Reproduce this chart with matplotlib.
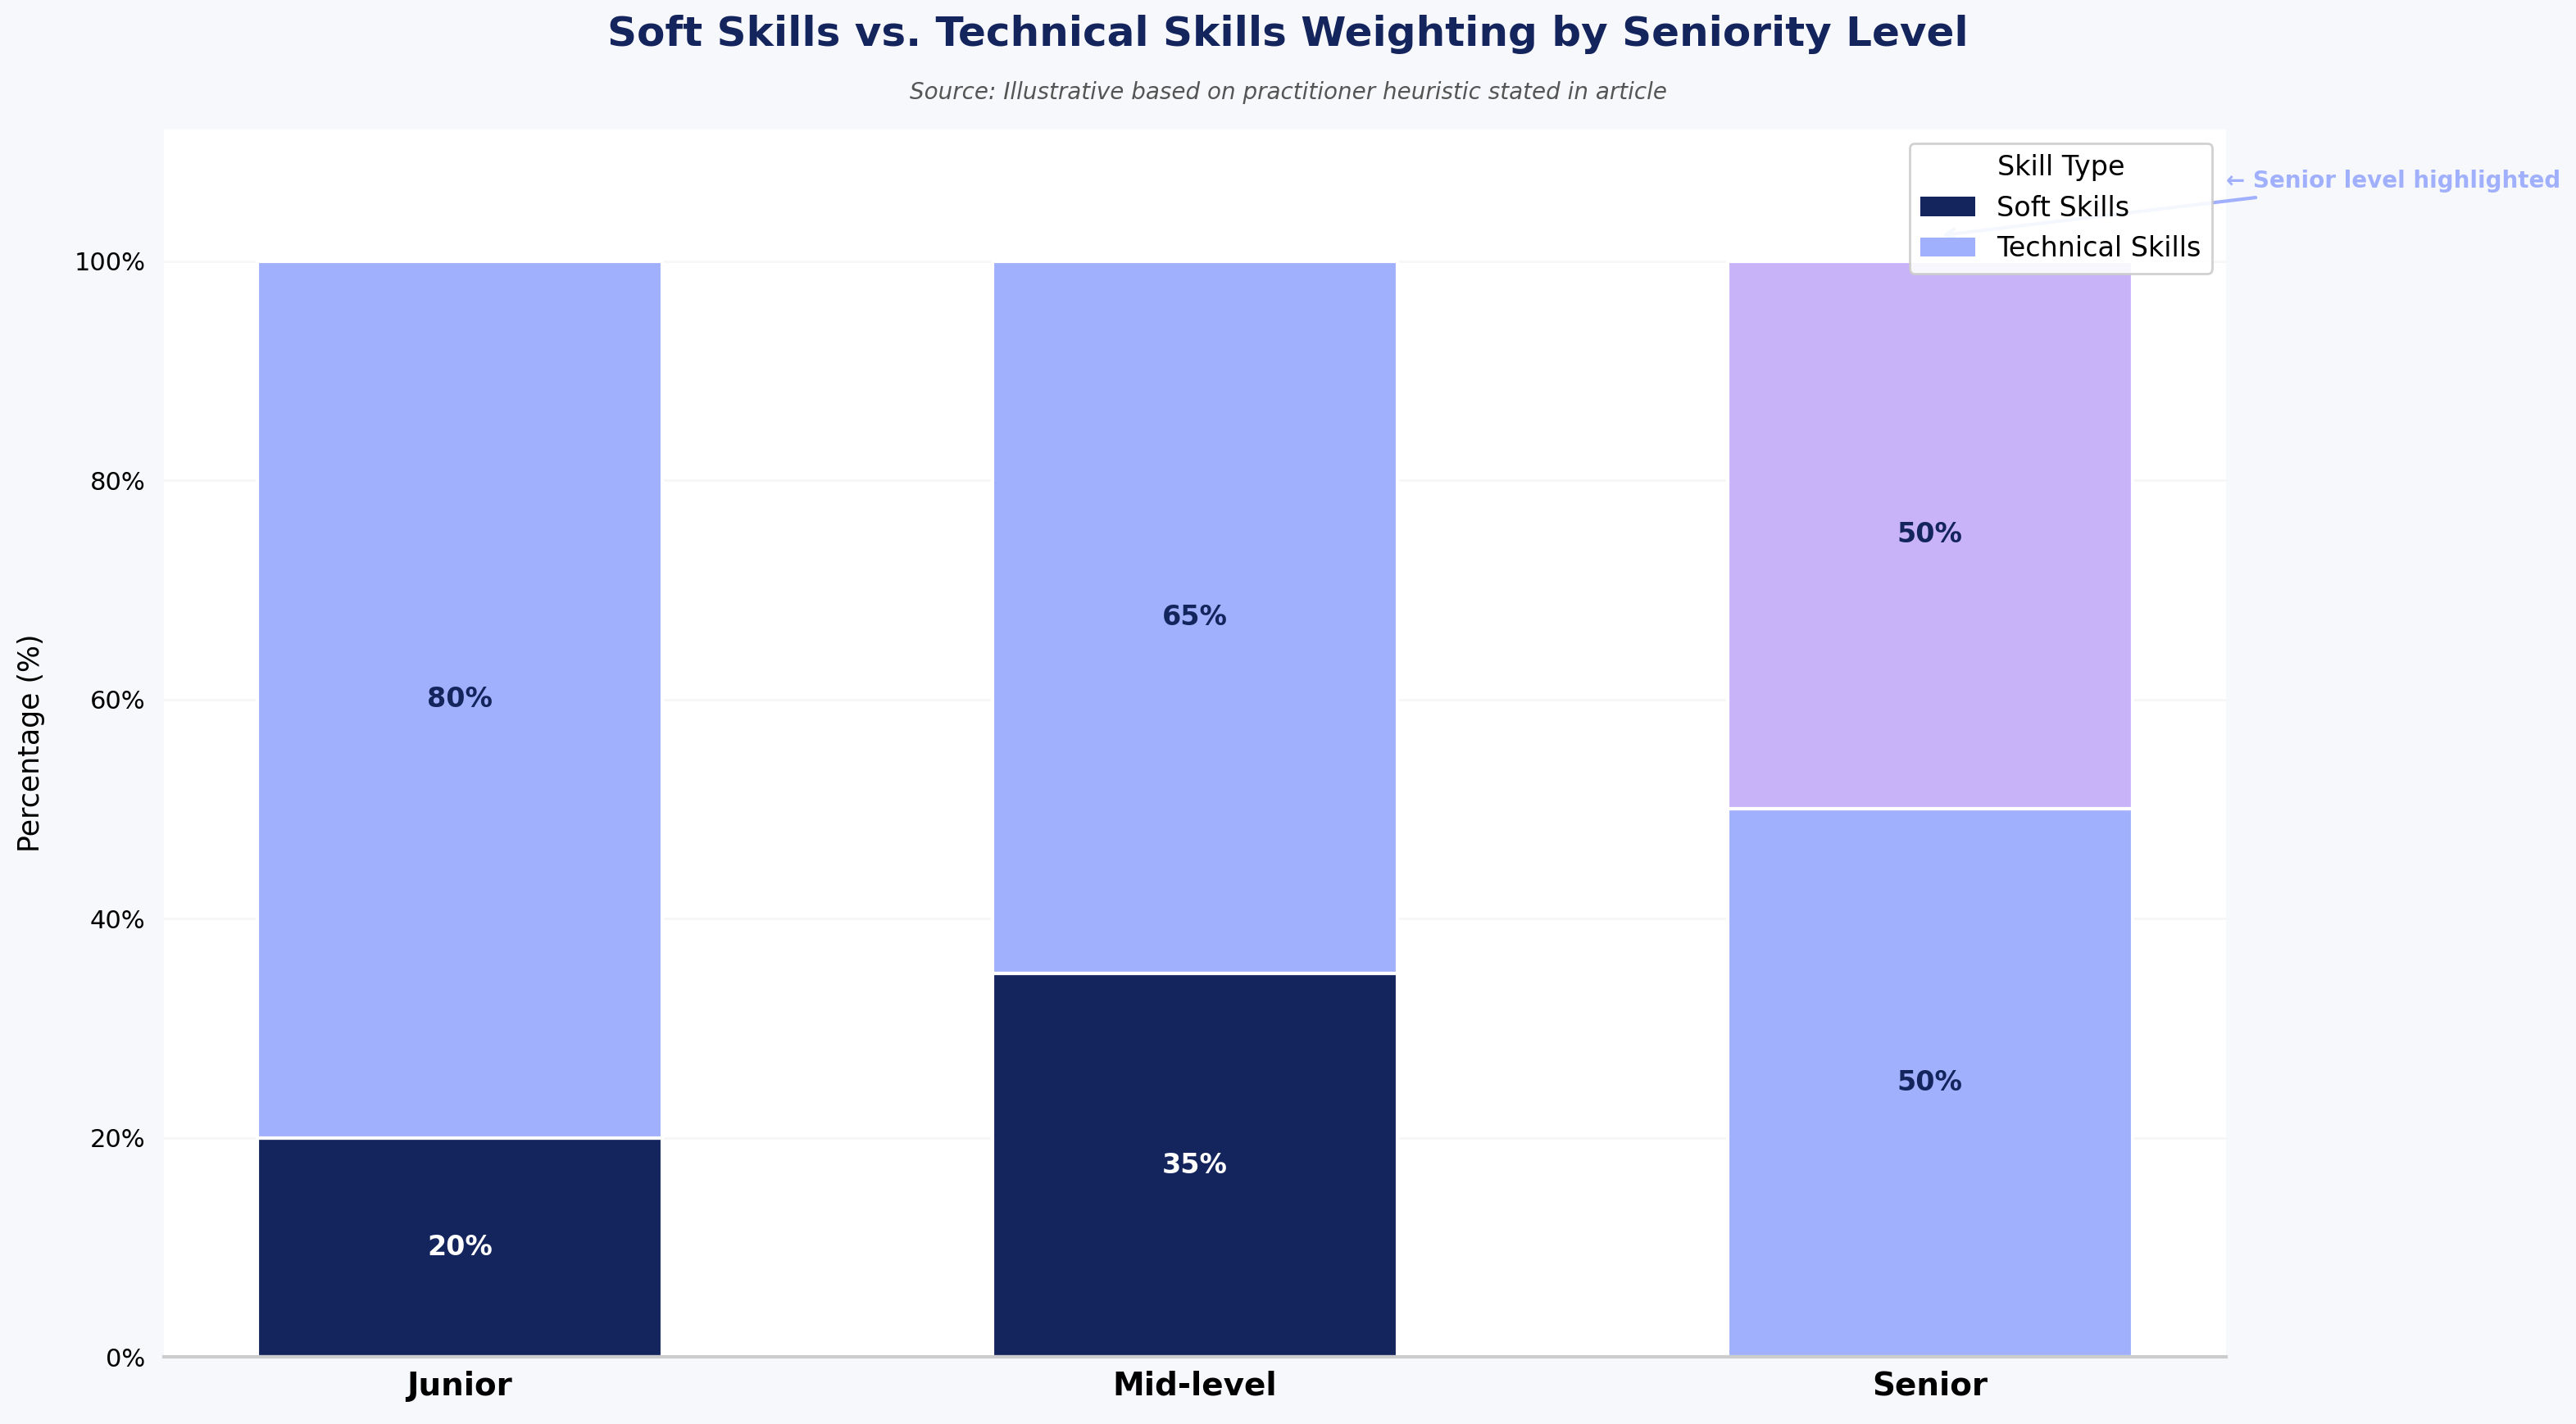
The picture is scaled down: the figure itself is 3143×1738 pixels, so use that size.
import matplotlib
matplotlib.use("Agg")
import matplotlib.pyplot as plt
from matplotlib.ticker import PercentFormatter
from matplotlib.patches import Patch

levels = ["Junior", "Mid-level", "Senior"]
soft_skills = [20, 35, 50]
technical_skills = [80, 65, 50]
yticks = [0, 20, 40, 60, 80, 100]

NAVY = "#14245C"
LIGHT = "#A0B0FD"
LAV = "#C8B3F9"
FIG_BG = "#F7F8FC"

fig = plt.figure(figsize=(3143 / 200, 1738 / 200), dpi=200, facecolor=FIG_BG)
ax = fig.add_axes([0.0636, 0.0470, 0.8005, 0.8621])
ax.set_facecolor("white")

x = list(range(len(levels)))
soft_colors = [NAVY, NAVY, LIGHT]
tech_colors = [LIGHT, LIGHT, LAV]
w = 0.55
b1 = ax.bar(x, soft_skills, width=w, color=soft_colors, edgecolor="white", linewidth=1.5, zorder=2)
b2 = ax.bar(x, technical_skills, width=w, bottom=soft_skills, color=tech_colors,
            edgecolor="white", linewidth=1.5, zorder=2)

for i in x:
    sc = "white" if soft_colors[i] == NAVY else NAVY
    ax.text(i, soft_skills[i] / 2, f"{soft_skills[i]}%", ha="center", va="center",
            color=sc, fontsize=12, fontweight="bold", zorder=4)
    ax.text(i, soft_skills[i] + technical_skills[i] / 2, f"{technical_skills[i]}%",
            ha="center", va="center", color=NAVY, fontsize=12, fontweight="bold", zorder=4)

ax.set_ylim(0, 112)
ax.set_yticks(yticks)
ax.yaxis.set_major_formatter(PercentFormatter(decimals=0))
ax.set_xticks(x)
ax.set_xticklabels(levels, fontsize=14, fontweight="bold")
ax.tick_params(axis="both", length=0)
ax.tick_params(axis="y", labelsize=11, pad=8)
ax.tick_params(axis="x", pad=6)
ax.set_ylabel("Percentage (%)", fontsize=12.5, labelpad=13)
ax.grid(axis="y", color="#F7F7F7", linewidth=1, zorder=0)
ax.set_axisbelow(True)
for s in ["top", "right", "left"]:
    ax.spines[s].set_visible(False)
ax.spines["bottom"].set_color("#CCCCCC")
ax.spines["bottom"].set_linewidth(1.5)

ax.annotate("← Senior level highlighted", xy=(2.01, 102.3), xytext=(2.403, 107.3),
            ha="left", va="center", fontsize=10, fontweight="bold", color=LIGHT,
            annotation_clip=False,
            arrowprops=dict(arrowstyle="->", color=LIGHT, lw=1.5))

handles = [Patch(facecolor=NAVY, label="Soft Skills"), Patch(facecolor=LIGHT, label="Technical Skills")]
leg = ax.legend(handles=handles, title="Skill Type", loc="upper right", fontsize=12,
                title_fontsize=12, framealpha=0.9, edgecolor="#CCCCCC", facecolor="white")
leg.set_zorder(5)

fig.text(0.5, 0.976, "Soft Skills vs. Technical Skills Weighting by Seniority Level",
         ha="center", va="center", fontsize=18, fontweight="bold", color=NAVY)
fig.text(0.5, 0.935, "Source: Illustrative based on practitioner heuristic stated in article",
         ha="center", va="center", fontsize=10, style="italic", color="#555555")

fig.savefig("out.png", dpi=200, facecolor=FIG_BG)
